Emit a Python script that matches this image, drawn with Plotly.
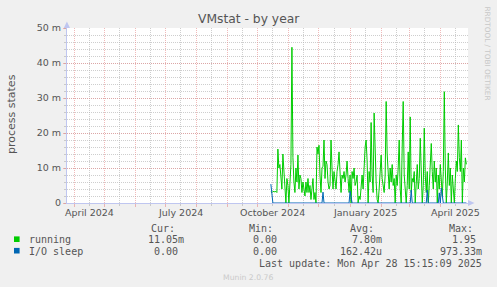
import plotly.graph_objects as go
import pandas as pd

# ---------------- data ----------------
title_text = "VMstat - by year"
y_title = "process states"
start_date = "2024-10-14"          # first daily sample
# running (values in milli-processes)
running = [
    3.2, 3.0, 3.3, 3.2, 3.2, 3.3, 3.0, 15.4, 10.0, 11.0,
    8.0, 4.0, 14.0, 9.0, 2.0, 0.0, 7.0, 5.0, 0.0, 4.0,
    11.0, 44.5, 13.0, 6.0, 3.0, 10.0, 6.0, 13.7, 4.0, 8.0,
    7.0, 3.0, 6.0, 4.0, 2.0, 6.0, 3.0, 7.0, 3.0, 5.0,
    1.0, 4.0, 7.0, 1.0, 3.0, 0.0, 16.0, 14.0, 16.5, 8.0,
    3.0, 10.0, 10.5, 18.0, 7.0, 12.0, 11.0, 6.0, 4.0, 5.0,
    18.0, 10.0, 4.0, 9.0, 7.0, 4.0, 9.0, 11.0, 14.6, 7.0,
    3.0, 8.0, 7.0, 9.0, 6.0, 8.0, 12.0, 7.0, 3.0, 8.0,
    0.0, 9.0, 7.0, 10.0, 5.0, 6.0, 8.0, 0.0, 2.0, 1.0,
    6.0, 8.0, 4.0, 13.0, 16.0, 18.0, 12.0, 0.0, 9.0, 6.0,
    23.0, 8.0, 3.0, 25.7, 12.0, 6.0, 1.0, 0.0, 4.0, 9.0,
    13.7, 7.0, 5.0, 3.0, 8.0, 29.0, 14.0, 9.0, 4.0, 10.0,
    6.0, 11.0, 5.0, 7.0, 0.0, 8.0, 5.0, 10.0, 18.0, 4.0,
    0.0, 16.0, 29.0, 8.0, 2.0, 0.0, 5.0, 14.6, 4.0, 24.6,
    3.0, 7.0, 6.0, 9.0, 0.0, 8.0, 11.0, 4.0, 7.0, 18.5,
    6.0, 0.0, 5.0, 21.4, 8.0, 3.0, 9.0, 0.0, 5.0, 10.0,
    17.0, 9.0, 4.0, 12.0, 6.0, 10.0, 0.0, 8.0, 4.0, 11.0,
    7.0, 2.0, 9.0, 31.8, 10.0, 0.0, 6.0, 14.3, 5.0, 10.0,
    0.0, 8.0, 4.0, 0.0, 7.0, 12.0, 9.0, 22.3, 13.0, 9.0,
    18.0, 0.0, 10.0, 6.0, 12.9, 11.05,
]
io_sleep = [
    5.4, 2.5, 0, 0, 0, 0, 0, 0, 0, 0,
    0, 0, 0, 0, 0, 0, 0, 0, 0, 0,
    0, 0, 0, 0, 0, 0, 0, 0, 0, 0,
    0, 0, 0, 0, 0, 0, 0, 0, 0, 0,
    0, 0, 0, 0, 0, 0, 0, 0, 0, 0,
    0, 0, 3.1, 0, 0, 0, 0, 0, 0, 0,
    0, 0, 0, 0, 0, 0, 0, 0, 0, 0,
    0, 0, 0, 0, 0, 0, 0, 0, 0, 3.4,
    1.5, 0, 0, 0, 0, 0, 0, 0, 0, 0,
    0, 0, 0, 0, 0, 0, 0, 0, 0, 0,
    0, 0, 0, 0, 0, 0, 0, 0, 0, 0,
    0, 0, 0, 0, 0, 0, 0, 0, 0, 0,
    0, 0, 0, 0, 0, 0, 0, 0, 0, 0,
    0, 0, 0, 0, 0, 0, 0, 0, 0, 0,
    3.7, 0, 0, 0, 0, 0, 0, 0, 0, 0,
    0, 0, 0, 0, 0, 0, 3.7, 0, 0, 0,
    0, 0, 0, 0, 0, 0, 0, 0, 2.9, 0,
    4.3, 1.0, 0, 0, 0, 0, 0, 0, 0, 0,
    0, 0, 0, 0, 0, 0, 0, 0, 0, 0,
    0, 0, 0, 0, 0, 0,
]
series_names = ["running", "I/O sleep"]
series_colors = ["#00CC00", "#0066B3"]
cur_vals = ["11.05m", "0.00"]
min_vals = ["0.00", "0.00"]
avg_vals = ["7.80m", "162.42u"]
max_vals = ["1.95", "973.33m"]
last_update = "Last update: Mon Apr 28 15:15:09 2025"
version_text = "Munin 2.0.76"
side_text = "RRDTOOL / TOBI OETIKER"

x_start = "2024-03-24 15:15:09"
x_end = "2025-04-28 15:15:09"
label_dates = ["2024-04-16", "2024-07-16", "2024-10-16", "2025-01-16", "2025-04-16"]
label_texts = ["April 2024", "July 2024", "October 2024", "January 2025", "April 2025"]
y_ticks = [0, 10, 20, 30, 40, 50]
y_tick_texts = ["0", "10 m", "20 m", "30 m", "40 m", "50 m"]

# ---------------- layout geometry ----------------
W, H = 497, 287
L, R, T, B = 67, 468, 28, 203


def px(xp):
    return (xp - L) / (R - L)


def py(yp):
    return (B - yp) / (B - T)


dates = pd.date_range(start_date, periods=len(running), freq="D")
month_starts = list(pd.date_range("2024-04-01", "2025-04-01", freq="MS"))
mid_months = [d + pd.Timedelta(days=15) for d in month_starts]
mid_months = [d for d in mid_months if d < pd.Timestamp(x_end)]

MAJOR = "rgba(230,140,140,0.6)"
MINOR = "rgba(180,180,180,0.65)"
AXIS = "#BFC6F0"
TXT = "#555555"

fig = go.Figure()
for name, vals, col in zip(series_names, [running, io_sleep], series_colors):
    fig.add_trace(go.Scatter(x=dates, y=vals, mode="lines", name=name,
                             line=dict(color=col, width=1), showlegend=False))

fig.update_layout(
    width=W, height=H,
    margin=dict(l=L, r=W - R, t=T, b=H - B, autoexpand=False),
    paper_bgcolor="#F0F0F0", plot_bgcolor="#FFFFFF",
    font=dict(family="DejaVu Sans", size=10, color=TXT),
    showlegend=False,
)
fig.update_xaxes(
    type="date", range=[x_start, x_end], showticklabels=False,
    tickmode="array", tickvals=month_starts,
    ticks="outside", ticklen=3, tickcolor=MAJOR,
    showgrid=True, gridcolor=MAJOR, griddash="1px,1px", gridwidth=1,
    minor=dict(tickmode="array", tickvals=mid_months, ticks="outside", ticklen=2,
               tickcolor=MINOR, showgrid=True, gridcolor=MINOR, griddash="1px,1px"),
    showline=True, linecolor=AXIS, linewidth=1, zeroline=False,
)
fig.update_yaxes(
    range=[0, 50], tickmode="array", tickvals=y_ticks, ticktext=y_tick_texts,
    tickfont=dict(size=9.5, color=TXT),
    ticks="outside", ticklen=3, tickcolor=MAJOR,
    showgrid=True, gridcolor=MAJOR, griddash="1px,1px",
    minor=dict(dtick=2, ticks="outside", ticklen=2, tickcolor=MINOR,
               showgrid=True, gridcolor=MINOR, griddash="1px,1px"),
    showline=True, linecolor=AXIS, linewidth=1, zeroline=False,
)

ann = []
# x tick labels
for d, t in zip(label_dates, label_texts):
    ann.append(dict(x=d, xref="x", y=0, yref="paper", text=t, showarrow=False,
                    yanchor="middle", xanchor="center", yshift=-9,
                    font=dict(size=9.5, color=TXT)))
# title
ann.append(dict(x=px(248.5), y=py(19), xref="paper", yref="paper", text=title_text,
                showarrow=False, xanchor="center", yanchor="middle",
                font=dict(size=12.3, color=TXT)))
# y title
ann.append(dict(x=px(11), y=py(114), xref="paper", yref="paper", text=y_title,
                showarrow=False, xanchor="center", yanchor="middle", textangle=-90,
                font=dict(size=11, color=TXT)))
# side text
ann.append(dict(x=px(487.5), y=py(53), xref="paper", yref="paper", text=side_text,
                showarrow=False, xanchor="center", yanchor="middle", textangle=90,
                font=dict(size=7.3, color="#C8C8C8")))

mono = dict(family="DejaVu Sans Mono", size=10, color=TXT)


def txt(x, y, s, anchor="left", font=mono):
    ann.append(dict(x=px(x), y=py(y), xref="paper", yref="paper", text=s,
                    showarrow=False, xanchor=anchor, yanchor="middle", font=font))


for x, s in zip([149, 247, 348, 447], ["Cur:", "Min:", "Avg:", "Max:"]):
    txt(x, 228, s)
rows_y = [239.5, 251]
for i in range(2):
    yv = rows_y[i]
    txt(27, yv, series_names[i])
    txt(185.5, yv, cur_vals[i] + ("" if cur_vals[i][-1].isalpha() else "\u00a0"), "right")
    txt(284.5, yv, min_vals[i] + ("" if min_vals[i][-1].isalpha() else "\u00a0"), "right")
    txt(383.5, yv, avg_vals[i] + ("" if avg_vals[i][-1].isalpha() else "\u00a0"), "right")
    txt(483.5, yv, max_vals[i] + ("" if max_vals[i][-1].isalpha() else "\u00a0"), "right")
txt(483.5, 263, last_update, "right")
txt(247.5, 277, version_text, "center", dict(family="DejaVu Sans", size=7.7, color="#CACACA"))
fig.update_layout(annotations=ann)

shapes = []
# legend colour squares
for i, col in enumerate(series_colors):
    yc = rows_y[i] - 0.3
    shapes.append(dict(type="rect", xref="paper", yref="paper",
                       x0=px(14), x1=px(19.6), y0=py(yc - 2.8), y1=py(yc + 2.8),
                       fillcolor=col, line=dict(width=0)))
# axis arrows
shapes.append(dict(type="path", xref="paper", yref="paper",
                   path=f"M {px(63.8)},{py(28)} L {px(70)},{py(28)} L {px(66.9)},{py(21.5)} Z",
                   fillcolor=AXIS, line=dict(width=0)))
shapes.append(dict(type="path", xref="paper", yref="paper",
                   path=f"M {px(468)},{py(199.9)} L {px(468)},{py(206.1)} L {px(474.5)},{py(203)} Z",
                   fillcolor=AXIS, line=dict(width=0)))
fig.update_layout(shapes=shapes)

fig.write_html("out.html", config={"displayModeBar": False})
